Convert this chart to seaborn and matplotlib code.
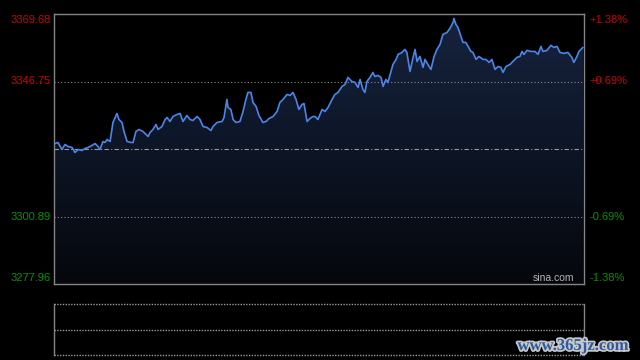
import numpy as np
import seaborn as sns
import matplotlib.pyplot as plt
import matplotlib.patheffects as pe
from matplotlib.path import Path
from matplotlib.patches import PathPatch
from matplotlib.colors import LinearSegmentedColormap

# reference values
prev_close = 3323.82
price_ticks = [3369.68, 3346.75, 3323.82, 3300.89, 3277.96]
pct_ticks = ['+1.38%', '+0.69%', '', '-0.69%', '-1.38%']

# minute of session (0-240) and index value
minutes = [
    0.5, 1.8, 3.6, 5.0, 6.3, 8.2, 9.5, 10.9, 12.7, 14.0,
    15.4, 17.2, 18.6, 19.9, 20.8, 22.2, 23.1, 24.0, 25.4, 26.7,
    28.5, 29.4, 30.8, 31.7, 33.1, 34.9, 35.8, 37.1, 38.5, 40.3,
    42.6, 43.5, 44.8, 46.2, 47.1, 48.9, 50.3, 51.2, 52.5, 53.9,
    55.7, 57.1, 58.4, 60.2, 61.6, 62.9, 64.8, 66.1, 67.5, 69.3,
    71.1, 72.0, 73.8, 76.1, 77.0, 78.3, 78.8, 80.1, 81.1, 82.4,
    84.2, 85.6, 86.9, 87.8, 89.2, 90.1, 91.5, 92.8, 94.6, 96.0,
    97.4, 99.2, 101.0, 102.3, 103.7, 105.5, 106.9, 108.2, 109.6, 110.9,
    112.3, 113.2, 114.6, 115.9, 117.3, 118.2, 119.5, 121.4, 122.7, 124.1,
    125.9, 127.2, 128.6, 130.4, 131.8, 133.1, 134.9, 136.3, 137.7, 138.6,
    139.9, 140.8, 141.7, 143.1, 144.4, 145.3, 146.7, 148.1, 149.0, 150.3,
    151.2, 152.6, 153.5, 154.9, 155.8, 157.6, 158.9, 159.8, 161.2, 162.6,
    163.5, 164.4, 165.7, 167.1, 168.0, 169.3, 170.7, 172.1, 173.4, 174.8,
    176.1, 178.0, 179.3, 180.7, 181.1, 182.0, 182.9, 184.3, 185.2, 186.5,
    187.5, 188.8, 189.7, 191.1, 192.4, 194.3, 195.6, 197.0, 198.3, 199.7,
    201.1, 202.4, 203.3, 204.7, 206.5, 207.8, 209.6, 211.0, 211.9, 212.8,
    214.2, 216.0, 217.8, 219.2, 220.5, 221.4, 223.2, 225.0, 226.4, 227.8,
    229.1, 230.9, 232.7, 234.5, 235.4, 236.8, 237.7, 239.0, 239.5,
]
prices = [
    3325.69, 3326.03, 3323.65, 3325.35, 3324.67, 3324.33, 3322.63, 3323.65, 3323.31, 3323.99,
    3324.33, 3325.01, 3325.69, 3324.67, 3323.65, 3326.37, 3326.03, 3327.05, 3326.37, 3332.83,
    3335.89, 3333.85, 3332.83, 3329.77, 3326.37, 3326.03, 3326.03, 3329.77, 3330.45, 3329.77,
    3328.07, 3329.43, 3330.45, 3332.15, 3330.45, 3331.47, 3333.85, 3334.53, 3333.17, 3334.87,
    3335.55, 3335.89, 3333.17, 3335.21, 3333.85, 3333.51, 3334.87, 3333.85, 3331.47, 3331.13,
    3330.11, 3331.47, 3332.83, 3333.17, 3334.53, 3340.65, 3337.93, 3337.25, 3333.85, 3332.83,
    3333.17, 3336.57, 3340.65, 3343.03, 3343.03, 3339.63, 3338.27, 3335.21, 3332.83, 3333.17,
    3334.19, 3334.87, 3336.57, 3339.63, 3340.65, 3342.35, 3342.01, 3343.03, 3340.65, 3337.25,
    3338.95, 3339.29, 3333.17, 3334.19, 3334.87, 3334.87, 3333.85, 3337.25, 3336.57, 3337.93,
    3340.65, 3342.35, 3343.03, 3345.07, 3345.75, 3348.13, 3346.77, 3346.43, 3344.73, 3347.45,
    3344.05, 3343.03, 3346.77, 3348.13, 3349.83, 3348.47, 3348.81, 3348.13, 3345.07, 3347.45,
    3346.43, 3350.17, 3352.55, 3354.25, 3355.95, 3356.63, 3357.65, 3356.63, 3350.17, 3354.93,
    3357.65, 3353.57, 3355.27, 3351.53, 3354.25, 3352.55, 3350.85, 3355.27, 3357.65, 3359.35,
    3362.75, 3363.43, 3364.79, 3366.83, 3368.19, 3366.15, 3365.13, 3362.07, 3360.03, 3360.03,
    3358.67, 3356.97, 3356.63, 3354.25, 3355.27, 3354.25, 3354.25, 3353.23, 3354.25, 3350.85,
    3351.87, 3351.53, 3349.83, 3351.87, 3352.55, 3353.57, 3354.93, 3355.27, 3356.97, 3355.95,
    3357.31, 3356.97, 3356.97, 3355.95, 3358.67, 3356.97, 3357.31, 3359.01, 3358.33, 3358.67,
    3356.63, 3356.29, 3356.63, 3354.93, 3353.23, 3355.27, 3356.97, 3357.99, 3358.33,
]
assert len(minutes) == len(prices)

sns.set_style('dark')
plt.rcParams['font.family'] = ['Liberation Sans', 'DejaVu Sans']

bg = '#000000'
frame = '#858585'
up_col = '#d00000'
down_col = '#009400'

fig = plt.figure(figsize=(6.4, 3.6), dpi=100, facecolor=bg)
ax = fig.add_axes([54 / 640, 1 - 284 / 360, 530 / 640, 270 / 360])
ax2 = fig.add_axes([54 / 640, 1 - 355 / 360, 530 / 640, 51 / 360])

lo, hi = price_ticks[-1], price_ticks[0]
ax.set_facecolor(bg)
ax.set_xlim(0, 240)
ax.set_ylim(lo, hi)

# gradient area under the line
cmap = LinearSegmentedColormap.from_list('area', ['#05070b', '#0d1526', '#17243f'])
grad = np.linspace(0, 1, 256).reshape(-1, 1)
img = ax.imshow(grad, extent=[0, 240, lo, hi], origin='lower', aspect='auto',
                cmap=cmap, zorder=1)
verts = [(minutes[0], lo)] + list(zip(minutes, prices)) + [(minutes[-1], lo), (minutes[0], lo)]
poly = PathPatch(Path(verts), facecolor='none', edgecolor='none')
ax.add_patch(poly)
img.set_clip_path(poly)

# grid lines
for p in (price_ticks[1], price_ticks[3]):
    ax.axhline(p, color='#8a8a8a', lw=0.8, ls=(0, (1, 2)), zorder=2)
ax.axhline(prev_close, color='#9a9a9a', lw=0.8, ls=(0, (4, 2, 1, 2)), zorder=2)

sns.lineplot(x=minutes, y=prices, ax=ax, color='#4a86e8', lw=1.2, zorder=3)

ax.set_xticks([])
ax.set_yticks([])
ax.set_xlabel('')
ax.set_ylabel('')
for s in ax.spines.values():
    s.set_visible(True)
    s.set_color(frame)
    s.set_linewidth(1)

# price labels on both sides
for i, (p, pct) in enumerate(zip(price_ticks, pct_ticks)):
    if i == 2:
        continue
    col = up_col if p > prev_close else down_col
    off = -2.0 if i == 0 else (2.2 if i == 4 else 0)
    ax.text(-0.006, p + off, f'{p:.2f}', transform=ax.get_yaxis_transform(),
            ha='right', va='center', color=col, fontsize=8)
    ax.text(1.011, p + off, pct, transform=ax.get_yaxis_transform(),
            ha='left', va='center', color=col, fontsize=8)

ax.text(0.982, 0.005, 'sina.com', transform=ax.transAxes, ha='right', va='bottom',
        color='#b4b4b4', fontsize=7.5)

# empty volume panel
ax2.set_facecolor(bg)
ax2.set_xlim(0, 240)
ax2.set_ylim(0, 2)
ax2.set_xticks([])
ax2.set_yticks([])
for k in ('top', 'bottom'):
    ax2.spines[k].set_visible(False)
for k in ('left', 'right'):
    ax2.spines[k].set_visible(True)
    ax2.spines[k].set_color(frame)
    ax2.spines[k].set_linewidth(1)
for yy in (0, 1, 2):
    ax2.axhline(yy, color='#9a9a9a', lw=1, ls=(0, (1, 1)), clip_on=False)

fig.text(573 / 640, 1 - 346 / 360, 'www.365jz.com', ha='center', va='center', color='#2f5a9e',
         fontsize=12, fontweight='bold', family=['Liberation Serif', 'DejaVu Serif'],
         path_effects=[pe.withStroke(linewidth=2.5, foreground='#c8c8c8')])

fig.savefig('out.png', dpi=100, facecolor=bg)
